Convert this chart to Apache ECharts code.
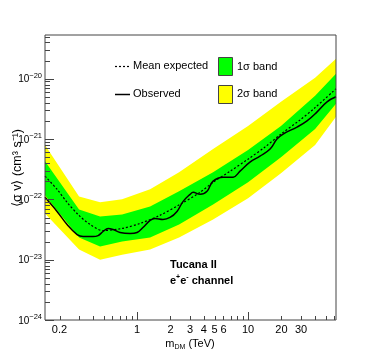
<!DOCTYPE html>
<html lang="en">

<head>
    <meta charset="UTF-8">
    <title>Tucana II e+e- limits</title>
    <script src="https://cdn.jsdelivr.net/npm/echarts@6.0.0/dist/echarts.min.js"></script>
    <style>
        html, body { margin: 0; padding: 0; background: #fff; }
        #main { width: 374px; height: 356px; }
    </style>
</head>

<body>
    <div id="main"></div>
    <script>
        // band edges (sampled masses, TeV)
        var bandMass = [0.148, 0.30, 0.464, 0.733, 1.31, 2.39, 4.84, 10.0, 19.8, 40.2, 62];
        var yellowUp = [7.94e-22, 1.12e-22, 8.91e-23, 1.0e-22, 1.47e-22, 2.82e-22, 6.81e-22, 1.65e-21, 4.14e-21, 1.04e-20, 2.15e-20];
        var greenUp = [4.30e-22, 6.81e-23, 5.21e-23, 5.62e-23, 7.64e-23, 1.36e-22, 2.82e-22, 6.56e-22, 1.65e-21, 5.21e-21, 1.21e-20];
        var greenLo = [1.17e-22, 2.33e-23, 1.65e-23, 2.0e-23, 2.33e-23, 3.83e-23, 8.25e-23, 1.92e-22, 5.01e-22, 1.47e-21, 3.83e-21];
        var yellowLo = [5.84e-23, 1.47e-23, 1.0e-23, 1.21e-23, 1.47e-23, 2.33e-23, 4.64e-23, 1.04e-22, 2.71e-22, 7.94e-22, 2.33e-21];

        // mean expected
        var expMass = [0.148, 0.19, 0.234, 0.3, 0.377, 0.49, 0.73, 1.06, 1.6, 2.44, 3.7, 4.84, 6.9, 10, 14.2, 19.8, 29.4, 40, 62];
        var expected = [2.42e-22, 1.47e-22, 8.91e-23, 5.41e-23, 3.83e-23, 3.04e-23, 3.29e-23, 3.98e-23, 5.41e-23, 8.25e-23, 1.31e-22, 1.92e-22, 2.93e-22, 4.64e-22, 7.36e-22, 1.21e-21, 2.07e-21, 3.29e-21, 6.81e-21];

        // observed
        var obsMass = [0.148, 0.19, 0.234, 0.288, 0.326, 0.401, 0.445, 0.494, 0.548, 0.608, 0.703, 0.865, 1.0, 1.13, 1.31, 1.45, 1.71, 1.98, 2.29, 2.6, 3.0, 3.2, 3.7, 4.27, 4.84, 5.96, 7.33, 8.47, 10.4, 12.8, 15.8, 18.2, 20.7, 27.6, 34.0, 41.9, 51.5, 62];
        var observed = [1.08e-22, 6.31e-23, 3.83e-23, 2.61e-23, 2.42e-23, 2.42e-23, 2.51e-23, 2.93e-23, 3.29e-23, 3.16e-23, 2.82e-23, 2.71e-23, 2.82e-23, 3.41e-23, 4.47e-23, 4.82e-23, 4.64e-23, 5.01e-23, 6.31e-23, 9.26e-23, 1.21e-22, 1.31e-22, 1.21e-22, 1.36e-22, 2.0e-22, 2.33e-22, 2.33e-22, 2.93e-22, 4.14e-22, 5.21e-22, 6.81e-22, 1.0e-21, 1.21e-21, 1.58e-21, 2.0e-21, 2.82e-21, 4.14e-21, 5.01e-21];

        // axes
        var xMin = 0.148, xMax = 62;
        var yMin = 1e-24, yMax = 5.3e-20;
        var xLabels = [0.2, 1, 2, 3, 4, 5, 6, 10, 20, 30];
        var xMajor = [1, 10];
        var xMinor = [0.2, 0.3, 0.4, 0.5, 0.6, 0.7, 0.8, 0.9, 2, 3, 4, 5, 6, 7, 8, 9, 20, 30, 40, 50, 60];
        var yDecades = [-24, -23, -22, -21, -20];

        var FONT = 'Liberation Sans, Arial, Helvetica, sans-serif';
        var AXIS_COLOR = '#444';

        function pairs(xs, ys) {
            var out = [];
            for (var i = 0; i < xs.length; i++) out.push([xs[i], ys[i]]);
            return out;
        }

        function bandItem(upper, lower, color) {
            return function (params, api) {
                var pts = [];
                for (var i = 0; i < bandMass.length; i++) pts.push(api.coord([bandMass[i], upper[i]]));
                for (var j = bandMass.length - 1; j >= 0; j--) pts.push(api.coord([bandMass[j], lower[j]]));
                return { type: 'polygon', shape: { points: pts }, style: { fill: color } };
            };
        }

        // ticks: [value, length]
        var xTicks = [];
        xMajor.forEach(function (v) { xTicks.push([v, 8]); });
        xMinor.forEach(function (v) { if (v > xMin && v < xMax) xTicks.push([v, 4]); });
        var yTicks = [];
        yDecades.forEach(function (d) {
            var base = Math.pow(10, d);
            if (base >= yMin && base <= yMax) yTicks.push([base, 9]);
            for (var k = 2; k <= 9; k++) {
                if (k * base < yMax) yTicks.push([k * base, 5]);
            }
        });

        var myChart = echarts.init(document.getElementById('main'));

        var option = {
            animation: false,
            backgroundColor: '#fff',
            grid: {
                left: 45, top: 35, width: 291, height: 285,
                show: true, borderColor: AXIS_COLOR, borderWidth: 1,
                backgroundColor: 'rgba(0,0,0,0)', z: 10
            },
            xAxis: {
                type: 'log', logBase: 10, min: xMin, max: xMax,
                axisLine: { show: false }, axisTick: { show: false },
                axisLabel: { show: false }, splitLine: { show: false }
            },
            yAxis: {
                type: 'log', logBase: 10, min: yMin, max: yMax,
                axisLine: { show: false }, axisTick: { show: false },
                axisLabel: { show: false }, splitLine: { show: false }
            },
            graphic: [
                // legend
                { type: 'line', shape: { x1: 115, y1: 66.5, x2: 130, y2: 66.5 }, style: { stroke: '#000', lineWidth: 1.2, lineDash: [2, 2] } },
                { type: 'text', x: 133, y: 66, style: { text: 'Mean expected', font: '11px ' + FONT, fill: '#000', verticalAlign: 'middle' } },
                { type: 'line', shape: { x1: 115, y1: 94.5, x2: 130, y2: 94.5 }, style: { stroke: '#000', lineWidth: 1.5 } },
                { type: 'text', x: 133, y: 94, style: { text: 'Observed', font: '11px ' + FONT, fill: '#000', verticalAlign: 'middle' } },
                { type: 'rect', shape: { x: 218.5, y: 57.5, width: 14, height: 18 }, style: { fill: '#00ff00', stroke: '#444', lineWidth: 1 } },
                { type: 'text', x: 237, y: 67, style: { text: '1σ band', font: '11px ' + FONT, fill: '#000', verticalAlign: 'middle' } },
                { type: 'rect', shape: { x: 218.5, y: 85.5, width: 14, height: 18 }, style: { fill: '#ffff00', stroke: '#444', lineWidth: 1 } },
                { type: 'text', x: 237, y: 94, style: { text: '2σ band', font: '11px ' + FONT, fill: '#000', verticalAlign: 'middle' } },
                // annotation
                { type: 'text', x: 170, y: 265, style: { text: 'Tucana II', font: 'bold 11px ' + FONT, fill: '#000', verticalAlign: 'middle' } },
                {
                    type: 'text', x: 170, y: 281,
                    style: {
                        text: '{b|e}{s|+}{b|e}{s|-}{b| channel}', verticalAlign: 'middle',
                        rich: {
                            b: { fontFamily: FONT, fontWeight: 'bold', fontSize: 11, lineHeight: 14, fill: '#000' },
                            s: { fontFamily: FONT, fontWeight: 'bold', fontSize: 7, lineHeight: 8, verticalAlign: 'top', fill: '#000' }
                        }
                    }
                },
                // axis titles
                {
                    type: 'text', x: 190, y: 344,
                    style: {
                        text: '{b|m}{s|DM}{b| (TeV)}', align: 'center', verticalAlign: 'middle',
                        rich: {
                            b: { fontFamily: FONT, fontSize: 11, lineHeight: 14, fill: '#000' },
                            s: { fontFamily: FONT, fontSize: 7, lineHeight: 8, verticalAlign: 'bottom', fill: '#000' }
                        }
                    }
                },
                {
                    type: 'text', x: 18, y: 168, rotation: Math.PI / 2,
                    style: {
                        text: '⟨σ v⟩ (cm³ s⁻¹)', font: '12.5px ' + FONT, fill: '#000',
                        align: 'center', verticalAlign: 'middle'
                    }
                }
            ],
            series: [
                {
                    type: 'custom', silent: true, z: 1,
                    renderItem: bandItem(yellowUp, yellowLo, '#ffff00'),
                    data: [[bandMass[0], yellowUp[0]]]
                },
                {
                    type: 'custom', silent: true, z: 1,
                    renderItem: bandItem(greenUp, greenLo, '#00ff00'),
                    data: [[bandMass[0], greenUp[0]]]
                },
                {
                    name: 'Mean expected', type: 'line', z: 3, smooth: 0.3, showSymbol: false,
                    lineStyle: { color: '#000', width: 1.2, type: [2, 2] },
                    data: pairs(expMass, expected)
                },
                {
                    name: 'Observed', type: 'line', z: 3, smooth: 0.4, showSymbol: false,
                    lineStyle: { color: '#000', width: 1.5 },
                    data: pairs(obsMass, observed)
                },
                {
                    // x ticks
                    type: 'custom', silent: true, z: 6,
                    data: xTicks,
                    renderItem: function (params, api) {
                        var p = api.coord([api.value(0), yMin]);
                        var x = Math.round(p[0]) + 0.5;
                        return { type: 'line', shape: { x1: x, y1: p[1], x2: x, y2: p[1] - api.value(1) }, style: { stroke: AXIS_COLOR, lineWidth: 1 } };
                    }
                },
                {
                    // y ticks
                    type: 'custom', silent: true, z: 6,
                    data: yTicks,
                    renderItem: function (params, api) {
                        var p = api.coord([xMin, api.value(0)]);
                        var y = Math.round(p[1]) + 0.5;
                        return { type: 'line', shape: { x1: p[0], y1: y, x2: p[0] + api.value(1), y2: y }, style: { stroke: AXIS_COLOR, lineWidth: 1 } };
                    }
                },
                {
                    // x tick labels
                    type: 'custom', silent: true, z: 6,
                    data: xLabels.map(function (v) { return [v, yMin]; }),
                    renderItem: function (params, api) {
                        var p = api.coord([api.value(0), yMin]);
                        return {
                            type: 'text', x: p[0], y: p[1] + 4,
                            style: { text: String(xLabels[params.dataIndex]), font: '11px ' + FONT, fill: '#000', align: 'center', verticalAlign: 'top' }
                        };
                    }
                },
                {
                    // y tick labels
                    type: 'custom', silent: true, z: 6,
                    data: yDecades.map(function (d) { return [xMin, Math.pow(10, d)]; }),
                    renderItem: function (params, api) {
                        var p = api.coord([xMin, api.value(1)]);
                        return {
                            type: 'text', x: p[0] - 3, y: p[1] + 1,
                            style: {
                                text: '{b|10}{s|−' + Math.abs(yDecades[params.dataIndex]) + '}',
                                align: 'right', verticalAlign: 'middle',
                                rich: {
                                    b: { fontFamily: FONT, fontSize: 10, lineHeight: 16, fill: '#000' },
                                    s: { fontFamily: FONT, fontSize: 7.5, lineHeight: 8, verticalAlign: 'top', fill: '#000' }
                                }
                            }
                        };
                    }
                }
            ]
        };

        myChart.setOption(option);
    </script>
</body>

</html>
